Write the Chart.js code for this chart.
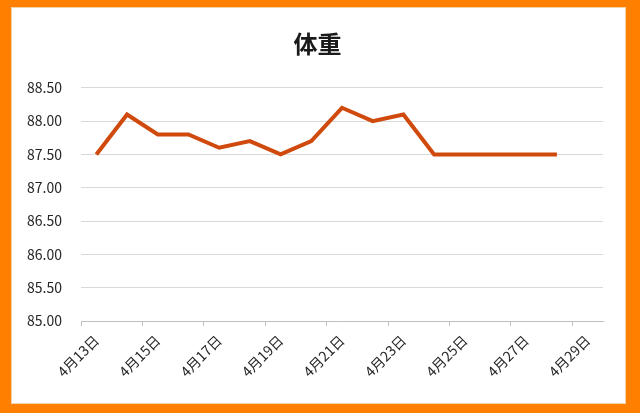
<!DOCTYPE html>
<html lang="ja">
<head>
<meta charset="UTF-8">
<script src="https://cdn.jsdelivr.net/npm/chart.js@4.4.1/dist/chart.umd.min.js"></script>
<title>体重</title>
<style>
  html, body { margin: 0; padding: 0; }
  body { width: 640px; height: 413px; background: #ff8000; position: relative; overflow: hidden; }
  .frame {
    position: absolute; left: 12px; top: 8px; width: 613px; height: 395px;
    background: #fff; box-shadow: 0 0 0 1px #f3d2a8;
  }
</style>
</head>
<body>
<div class="frame"><canvas id="weightChart" width="613" height="395"></canvas></div>
<script>
  // 日付 (4/29 はデータなし)
  const dates = ["4月13日", "4月14日", "4月15日", "4月16日", "4月17日", "4月18日", "4月19日", "4月20日",
                 "4月21日", "4月22日", "4月23日", "4月24日", "4月25日", "4月26日", "4月27日", "4月28日", "4月29日"];
  const weights = [87.5, 88.1, 87.8, 87.8, 87.6, 87.7, 87.5, 87.7,
                   88.2, 88.0, 88.1, 87.5, 87.5, 87.5, 87.5, 87.5, null];
  const yMin = 85.0;
  const yMax = 88.5;
  const yStep = 0.5;

  const fontFamily = '"Noto Sans CJK JP", "Noto Sans", sans-serif';

  new Chart("weightChart", {
    type: "line",
    data: {
      labels: dates,
      datasets: [{
        label: "体重",
        data: weights,
        borderColor: "#cf4a0c",
        backgroundColor: "#cf4a0c",
        borderWidth: 4,
        pointRadius: 0,
        tension: 0,
        spanGaps: false
      }]
    },
    options: {
      responsive: false,
      animation: false,
      layout: { padding: { left: 0, right: 2, top: 0, bottom: 0 } },
      plugins: {
        legend: { display: false },
        tooltip: { enabled: false },
        title: {
          display: true,
          text: "体重",
          color: "#1a1a1a",
          font: { family: fontFamily, size: 24, weight: "bold" },
          padding: { top: 21, bottom: 30 }
        }
      },
      scales: {
        x: {
          offset: true,
          grid: {
            offset: true,
            drawOnChartArea: false,
            drawTicks: true,
            tickLength: 5,
            tickColor: ctx => (ctx.index % 2 === 0 ? "#bfbfbf" : "rgba(0,0,0,0)")
          },
          border: { color: "#bfbfbf" },
          ticks: {
            autoSkip: false,
            minRotation: 45,
            maxRotation: 45,
            padding: 6,
            color: "#262626",
            font: { family: fontFamily, size: 14 },
            callback: function (value, index) {
              return index % 2 === 0 ? this.getLabelForValue(value) : "";
            }
          },
          afterFit: scale => { scale.height = 82; }
        },
        y: {
          min: yMin,
          max: yMax,
          grid: { color: "#d9d9d9", drawTicks: false },
          border: { display: false },
          ticks: {
            stepSize: yStep,
            padding: 19,
            color: "#262626",
            font: { family: fontFamily, size: 14 },
            callback: v => v.toFixed(2)
          },
          afterFit: scale => { scale.width = 69; }
        },
        // 右側の余白用 (表示なし)
        yRight: {
          position: "right",
          min: yMin,
          max: yMax,
          grid: { drawOnChartArea: false, drawTicks: false },
          border: { display: false },
          ticks: { display: false },
          afterFit: scale => { scale.width = 20; }
        }
      }
    }
  });
</script>
</body>
</html>
